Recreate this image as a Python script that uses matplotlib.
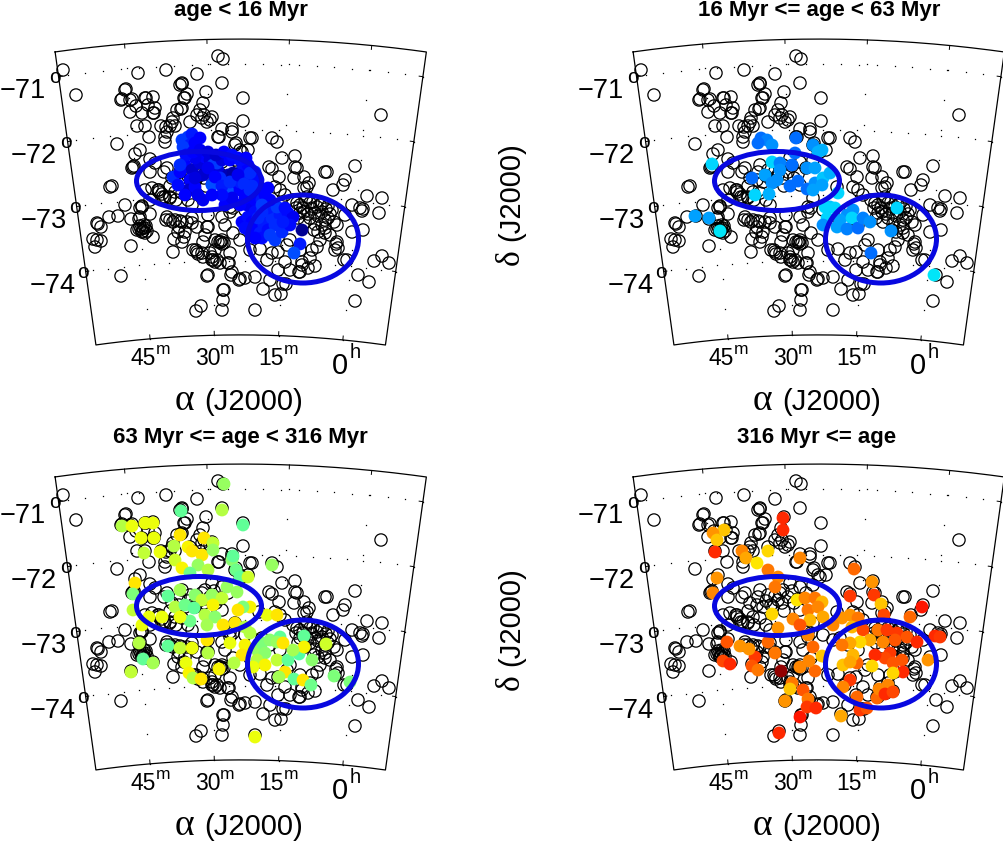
import numpy as np
import matplotlib
matplotlib.use("Agg")
import matplotlib.pyplot as plt
from matplotlib.patches import Ellipse

W, H = 1004, 843
SANS = "Liberation Sans"
SERIF = "Liberation Serif"

# positions are offsets on the projected sky plane
all_clusters = [
    (63,70),(138,73),(166,70),(197,74),(218,56),(223,59),(222,83),(76,95),(126,89),(122,99),(132,99),
    (182,83),(182,84),(187,94),(206,92),(243,98),(146,98),(153,97),(136,106),(130,112),(142,113),
    (148,105),(155,108),(153,113),(184,98),(182,108),(177,110),(203,103),(200,110),(204,115),(212,117),
    (207,122),(190,122),(173,118),(137,126),(145,126),(161,126),(166,127),(170,126),(175,126),(149,137),
    (165,137),(167,132),(222,129),(232,132),(218,137),(117,144),(236,143),(242,152),(250,138),(135,154),
    (140,150),(150,159),(134,166),(133,167),(110,187),(112,186),(158,190),(150,172),(170,197),(163,197),
    (142,206),(243,121),(252,138),(232,129),(219,137),(235,145),(240,150),(248,150),(272,138),(277,142),
    (282,158),(295,156),(295,167),(297,168),(272,169),(279,177),(294,178),(304,177),(307,187),(327,172),
    (355,166),(345,180),(343,185),(333,190),(367,196),(382,198),(360,208),(363,209),(381,115),(362,211),
    (379,213),(363,230),(352,232),(337,242),(338,248),(335,250),(347,260),(374,261),(382,256),(389,263),
    (358,275),(369,282),(355,301),(255,310),(222,310),(223,300),(223,290),(240,279),(232,272),(255,277),
    (263,289),(275,295),(281,294),(286,284),(283,284),(278,270),(300,272),(308,268),(315,266),(310,258),
    (302,262),(267,260),(272,253),(278,252),(287,245),(260,249),(317,247),(325,233),(297,203),(303,208),
    (310,203),(317,207),(322,203),(328,206),(300,213),(308,214),(315,213),(322,212),(330,214),(325,220),
    (305,222),(315,224),(318,232),(325,228),(330,235),(320,240),(208,215),(208,227),(203,242),(220,242),
    (222,240),(233,233),(233,208),(230,212),(210,253),(212,260),(203,257),(230,253),(231,275),(208,275),
    (215,240),(97,223),(98,224),(101,227),(93,239),(101,241),(97,240),(95,247),(109,217),(118,216),
    (131,219),(139,219),(142,207),(140,217),(150,214),(137,230),(140,226),(145,228),(142,232),(147,231),
    (144,225),(143,228),(153,237),(131,246),(121,276),(166,220),(170,220),(173,222),(182,222),(178,232),
    (192,218),(197,227),(185,232),(174,239),(182,242),(173,252),(193,250),(197,252),(213,260),(217,260),
    (220,263),(228,263),(218,242),(224,243),(239,280),(245,278),(201,306),(196,311),(187,222),(180,221),
    (152,188),(159,190),(165,197),(155,163),(167,168),(192,205),(167,217),(175,220),(140,208),(192,223),
    (207,227),(179,227),(222,217),(230,207),(259,187),(275,187),(280,190),(285,195),(269,167),(307,197),
    (309,183),(304,188),(325,172),(344,260),(302,265),(299,272),(224,290),(207,276),(229,263),(202,253),
    (184,237),(182,165),(172,178),(179,180),(185,182),(200,175),(197,171),(204,178),(205,165),(212,158),
    (222,162),(235,160),(159,192),(162,194),(170,198),(182,193),(175,192),(164,172),(132,168),(180,85),
    (185,98),(181,109),(197,115),(202,118),(210,120),(172,122),(165,142),(125,90),(121,100),(130,100),
    (145,98),(154,113),(190,170),(210,172),(216,178),(193,180),(222,185),(235,198),(245,210),(255,215),
    (262,213),(270,220),(280,225),(290,240),(300,250),(312,250),(337,225),(345,215),(352,205),(285,262),
    (290,270),(270,280),(145,190),(150,200),(125,205),(205,235),(215,250),(225,225),(240,240),(250,250),
    (293,200),(300,205),(306,200),(313,202),(320,205),(326,209),(332,210),(296,208),(304,212),(312,209),
    (318,216),(310,218),(298,218),(322,225),(314,230),(328,218),(334,222),(180,172),(188,176),(195,182),
    (202,168),(206,186),(214,166),(220,174),(228,168),(170,186),(176,200),(188,200),(141,229),(146,226),
    (143,231),(145,233),(139,229),(196,250),(198,254),(212,257),(215,262),(221,242),(222,244),(336,244),
]

blue_clusters = [
    (182,140,7.05),(188,137,7.05),(192,134,6.95),(200,138,6.85),(190,145,6.95),(183,147,7.05),(195,143,6.85),
    (173,177,7.0),(185,165,6.85),(192,170,6.7),(200,163,6.75),(205,157,6.85),(210,160,6.75),(213,165,7.05),
    (190,180,6.85),(203,175,6.7),(218,170,6.75),(228,175,6.65),(212,184,6.95),(220,178,7.0),(228,190,7.05),
    (235,182,6.9),(242,170,6.9),(240,190,6.85),(250,178,6.95),(248,165,6.85),(255,172,7.0),(258,180,6.9),
    (262,190,6.85),(188,190,6.7),(195,187,6.85),(203,200,6.8),(212,185,7.1),(227,190,7.1),(240,182,6.95),
    (250,173,7.0),(233,173,6.6),(217,163,7.05),(268,188,6.85),(257,192,6.85),(242,222,6.85),(248,217,6.9),
    (257,227,6.85),(263,223,6.95),(272,218,7.0),(280,215,6.95),(288,213,6.9),(293,217,6.8),(250,232,6.85),
    (260,233,6.95),(275,240,7.05),(282,232,7.0),(268,230,6.9),(290,225,6.9),(302,230,6.55),(300,244,6.95),
    (294,253,7.1),(253,207,6.85),(258,203,6.9),(247,205,6.8),(268,208,6.95),(277,207,7.05),(285,208,6.9),
    (225,205,6.85),(245,198,6.85),(255,200,6.85),(262,200,6.95),(265,195,6.85),(240,205,6.85),(180,172,6.85),
    (195,158,6.8),(222,160,6.75),(230,160,6.85),(238,158,6.85),(186,155,6.9),(193,152,6.85),(200,150,6.8),
    (208,152,6.75),(216,155,6.7),(224,152,6.85),(232,155,6.9),(240,160,6.9),(246,158,6.85),(180,165,7.0),
    (178,185,6.9),(185,195,6.85),(195,178,6.75),(208,168,6.8),(215,177,6.85),(222,186,6.95),(230,182,7.0),
    (238,175,6.8),(244,184,7.0),(252,186,7.0),(246,195,6.85),(232,198,6.8),(222,195,6.9),(212,195,6.85),
    (198,195,6.8),(255,212,6.9),(262,212,7.0),(270,200,6.85),(275,225,7.0),(262,238,6.9),(252,222,6.85),
    (245,228,6.9),(283,222,6.95),(270,235,7.05),(255,238,6.85),(262,205,7.05),(250,190,7.0),(258,218,7.0),
]

cyan_clusters = [
    (134,164,7.5),(117,216,7.35),(131,218,7.35),(142,231,7.55),(183,138,7.2),(189,140,7.25),(180,143,7.2),
    (194,145,7.3),(218,138,7.2),(235,145,7.3),(240,152,7.4),(244,150,7.4),(217,153,7.2),(194,162,7.5),
    (202,163,7.25),(214,165,7.2),(202,170,7.3),(229,168,7.3),(237,168,7.35),(187,175,7.35),(174,178,7.2),
    (199,180,7.3),(194,183,7.3),(220,181,7.2),(212,186,7.2),(229,189,7.2),(237,183,7.3),(245,178,7.45),
    (252,173,7.4),(235,190,7.35),(244,185,7.35),(191,194,7.4),(177,195,7.5),(260,193,7.5),(252,207,7.45),
    (247,207,7.5),(257,208,7.5),(249,218,7.5),(245,225,7.3),(275,210,7.3),(269,215,7.3),(262,220,7.35),
    (274,218,7.5),(259,227,7.35),(269,229,7.25),(280,228,7.2),(285,218,7.25),(292,222,7.3),(319,208,7.5),
    (313,231,7.3),(293,253,7.2),(356,275,7.55),
]

green_clusters = [
    (224,59,8.1),(222,85,8.2),(243,100,7.9),(181,86,7.9),(122,101,8.2),(132,101,8.4),(145,98,8.4),(153,98,8.4),
    (141,113,8.4),(154,113,8.4),(144,128,8.25),(160,127,8.4),(174,121,8.2),(180,110,8.5),(204,113,8.5),
    (188,122,8.45),(192,126,8.5),(202,130,8.5),(213,118,8.25),(213,125,8.1),(175,135,8.3),(182,143,8.45),
    (198,140,8.1),(208,145,8.2),(232,135,8.05),(233,131,7.9),(236,145,7.95),(240,152,7.9),(248,152,8.3),
    (272,140,8.1),(135,158,8.5),(133,169,8.0),(133,185,8.25),(168,171,7.9),(180,165,8.15),(190,148,7.95),
    (195,170,8.05),(202,175,8.25),(212,170,8.1),(222,173,8.25),(227,162,8.1),(237,167,8.1),(250,182,8.45),
    (243,182,8.0),(238,185,8.5),(175,182,8.2),(185,180,7.95),(194,183,7.9),(213,180,8.45),(205,190,8.2),
    (215,192,8.05),(190,196,7.95),(207,200,8.15),(180,192,8.4),(162,192,8.4),(149,192,8.4),(142,200,8.4),
    (223,200,8.5),(235,198,8.5),(245,202,8.2),(267,190,8.4),(277,190,8.5),(139,218,8.2),(168,221,7.9),
    (180,223,8.25),(192,223,8.4),(207,215,8.5),(208,228,8.2),(230,218,8.4),(245,220,8.45),(242,230,8.5),
    (250,208,8.2),(143,234,7.9),(153,238,8.15),(131,247,8.25),(186,238,8.4),(189,248,8.45),(193,253,8.2),
    (201,254,8.5),(219,244,8.45),(234,238,8.2),(257,225,8.1),(262,218,8.0),(270,215,8.05),(280,212,7.9),
    (277,217,8.1),(265,228,8.05),(257,235,8.2),(265,240,8.45),(277,235,8.25),(285,247,8.5),(279,252,8.15),
    (294,254,7.9),(303,255,8.5),(311,260,7.95),(288,235,7.9),(299,229,7.85),(304,211,7.9),(304,222,8.45),
    (293,225,8.15),(312,235,8.05),(326,219,8.3),(334,251,8.0),(350,257,8.0),(255,312,8.4),(283,218,8.5),
    (253,242,8.4),
]

red_clusters = [
    (205,93,9.1),(205,105,9.1),(146,105,8.6),(135,108,8.75),(139,115,8.6),(137,127,9.1),(164,126,8.8),
    (190,126,8.55),(168,133,8.7),(179,138,8.5),(222,133,8.8),(190,145,8.85),(139,153,8.75),(135,168,8.8),
    (200,152,8.8),(197,162,8.85),(219,175,8.5),(227,173,8.8),(237,173,8.85),(244,177,8.65),(230,185,8.85),
    (240,182,8.8),(194,189,8.55),(215,194,8.8),(232,195,8.65),(245,192,8.7),(200,203,8.75),(222,200,8.95),
    (230,210,8.8),(276,144,8.9),(294,157,8.75),(272,171,9.05),(296,170,9.05),(303,179,8.6),(344,182,9.15),
    (332,192,8.9),(306,190,9.0),(264,193,8.75),(272,190,8.75),(280,193,8.85),(255,200,8.8),(274,202,8.65),
    (357,211,9.1),(362,212,9.05),(285,205,9.0),(300,205,8.85),(309,205,9.05),(319,208,9.05),(329,212,8.95),
    (339,217,9.1),(317,215,8.95),(305,217,8.8),(292,215,8.7),(282,217,8.55),(272,218,8.7),(264,220,8.85),
    (312,228,9.05),(307,233,9.0),(297,230,9.1),(315,238,8.95),(324,235,8.95),(325,247,9.1),(315,248,8.55),
    (294,241,8.55),(279,238,8.9),(265,240,8.6),(275,230,8.65),(272,237,8.7),(350,235,8.75),(272,255,9.05),
    (265,262,8.8),(279,272,8.9),(299,273,8.9),(301,264,8.8),(310,260,8.8),(307,269,9.1),(315,267,9.0),
    (282,285,9.05),(289,283,8.95),(263,291,8.7),(222,292,9.15),(201,308,9.1),(203,246,9.45),(214,258,8.85),
    (212,264,8.6),(225,265,8.95),(230,274,8.85),(207,276,8.75),(229,282,9.05),(238,283,9.1),(237,246,8.9),
    (222,242,8.8),(231,236,8.8),(244,231,8.6),(235,222,8.9),(197,228,8.85),(190,217,8.9),(177,232,9.05),
    (174,241,8.95),(180,245,8.85),(171,224,8.75),(162,221,8.75),(149,217,8.95),(145,236,9.0),(152,239,9.1),
]

titles = ["age < 16 Myr", "16 Myr <= age < 63 Myr", "63 Myr <= age < 316 Myr", "316 Myr <= age"]
dec_labels = ["\u221271", "\u221272", "\u221273", "\u221274"]
dec_values = [-71, -72, -73, -74]
ra_labels = ["45", "30", "15", "0"]
ra_values = [45, 30, 15, 0]
# the two SMC regions: centre x, centre y, width, height
bar_region = (199, 181, 125, 59, 0)
wing_region = (303, 239, 111, 88, 0)

panel_sets = [blue_clusters, cyan_clusters, green_clusters, red_clusters]
panel_origins = [(0, 0), (578, 0), (0, 425), (578, 425)]


def sky_to_plane(ra_min, dec):
    # conic projection fitted to the frame
    r = 1319 + 65.6 * (np.asarray(dec, float) + 71)
    t = 0.0978 - 0.0614 * np.asarray(ra_min, float) / 15
    return 240.5 + r * np.sin(t), 1383 - r * np.cos(t)


def draw_frame(ax):
    ra_left, ra_right = 57.7, -10.0
    dec_top, dec_bot = -70.62, -75.13
    ras = np.linspace(ra_left, ra_right, 80)
    decs = np.linspace(dec_top, dec_bot, 20)
    x = np.r_[sky_to_plane(ras, dec_top)[0], sky_to_plane(ra_right, decs)[0],
              sky_to_plane(ras[::-1], dec_bot)[0], sky_to_plane(ra_left, decs[::-1])[0]]
    y = np.r_[sky_to_plane(ras, dec_top)[1], sky_to_plane(ra_right, decs)[1],
              sky_to_plane(ras[::-1], dec_bot)[1], sky_to_plane(ra_left, decs[::-1])[1]]
    ax.plot(x, y, color="k", lw=0.9, zorder=5, clip_on=False)
    # sparse dotted grid and small ticks
    for d in dec_values:
        gx, gy = sky_to_plane(np.arange(ra_right, ra_left, 3.3), d)
        ax.plot(gx, gy, ls="none", marker="s", ms=0.9, mew=0, color="k", zorder=1)
        for ra0, sign in ((ra_left, -1), (ra_right, 1)):
            tx, ty = sky_to_plane([ra0, ra0 + sign * 0.7], d)
            ax.plot(tx, ty, color="k", lw=0.7, zorder=5)
    for ra in ra_values:
        gx, gy = sky_to_plane(ra, np.arange(dec_bot, dec_top, 0.46))
        ax.plot(gx, gy, ls="none", marker="s", ms=0.9, mew=0, color="k", zorder=1)
        for d0, sign in ((dec_top, -1), (dec_bot, 1)):
            tx, ty = sky_to_plane(ra, [d0, d0 + sign * 0.06])
            ax.plot(tx, ty, color="k", lw=0.7, zorder=5)


def draw_labels(ax, title, title_x, title_y):
    ax.text(title_x, title_y, title, family=SANS, weight="bold", fontsize=16, ha="center", va="baseline")
    # declination labels with the degree sign as a raised o
    dec_right = [46, 57, 67, 76]
    dec_base = [98, 163, 228, 293]
    deg_x = [55, 66, 75, 83]
    for lab, rx, by, ox in zip(dec_labels, dec_right, dec_base, deg_x):
        ax.text(rx, by, lab, family=SANS, fontsize=19.5, ha="right", va="baseline", clip_on=False)
        ax.text(ox, by - 15, "o", family=SANS, fontsize=15, ha="center", va="baseline", clip_on=False)
    for lab, cx in zip(ra_labels[:3], [143.5, 207.5, 271.5]):
        ax.text(cx, 365, lab, family=SANS, fontsize=16.5, ha="center", va="baseline")
        ax.text(cx + 20, 354, "m", family=SANS, fontsize=12.5, ha="center", va="baseline")
    ax.text(340, 374, ra_labels[3], family=SANS, fontsize=21, ha="center", va="baseline")
    ax.text(355, 358, "h", family=SANS, fontsize=14.5, ha="center", va="baseline")
    ax.text(175, 410, "\u03b1", family=SERIF, fontsize=27, ha="left", va="baseline", clip_on=False)
    ax.text(204, 410, "(J2000)", family=SANS, fontsize=21, ha="left", va="baseline", clip_on=False)


fig = plt.figure(figsize=(W / 100, H / 100), dpi=100)
base = np.array(all_clusters).T
title_x = [240.5, 241, 240.5, 239]
title_y = [16, 16, 18, 18]

for i, (org, pts) in enumerate(zip(panel_origins, panel_sets)):
    ax = fig.add_axes([org[0] / W, 1 - (org[1] + 418) / H, 430 / W, 418 / H])
    ax.set_xlim(0, 430)
    ax.set_ylim(418, 0)
    ax.axis("off")
    ax.patch.set_alpha(0)

    draw_frame(ax)
    ax.scatter(base[0], base[1], s=78, facecolors="none", edgecolors="k", linewidths=0.9, zorder=2)

    p = np.array(pts).T
    ax.scatter(p[0], p[1], c=p[2], s=85, cmap="jet", vmin=6.5, vmax=9.5, linewidths=0, zorder=3)

    for reg in (bar_region, wing_region):
        ax.add_patch(Ellipse(reg[:2], reg[2], reg[3], angle=reg[4], fill=False,
                             edgecolor="#0808e0", lw=3.6, zorder=4))
    draw_labels(ax, titles[i], title_x[i], title_y[i])

    if i % 2 == 1:
        yc = org[1] + 197
        fig.text(511 / W, 1 - (yc + 68) / H, "\u03b4", family=SERIF, fontsize=24, rotation=90,
                 ha="center", va="bottom")
        fig.text(511 / W, 1 - (yc + 44) / H, "(J2000)", family=SANS, fontsize=21, rotation=90,
                 ha="center", va="bottom")

fig.savefig("out.png", dpi=100)
